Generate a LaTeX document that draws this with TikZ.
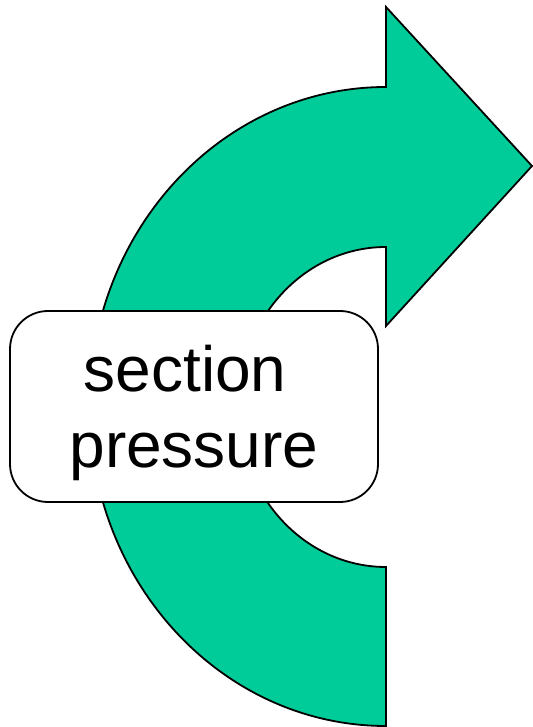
\documentclass[tikz,border=0pt]{standalone}
\usepackage{fontspec}
\setmainfont{Liberation Sans}
\definecolor{arrowgreen}{RGB}{0,204,153}
\begin{document}
\begin{tikzpicture}[x=1pt,y=1pt,
  outline/.style={draw=black,line width=1.8pt,line join=miter},
  bigarrow/.style={outline,fill=arrowgreen},
  labelbox/.style={outline,fill=white,rounded corners=38pt,minimum width=368pt,minimum height=191pt,inner sep=0pt},
  labeltext/.style={align=center,font=\fontsize{64}{76}\selectfont,inner sep=0pt}]
\useasboundingbox (0,0) rectangle (532,727);
% curved arrow
\path[bigarrow] (386,1)
  arc[start angle=270,end angle=90,x radius=296.6,y radius=319.5]
  -- (386,720) -- (532,561) -- (386,401) -- (386,480)
  arc[start angle=90,end angle=270,x radius=147.5,y radius=160]
  -- cycle;
% label box
\node[labelbox] (box) at (194,320.5) {};
\node[labeltext,anchor=base] (txt) at (194,259) {section\rule{0.278em}{0pt}\\pressure};
\end{tikzpicture}
\end{document}
